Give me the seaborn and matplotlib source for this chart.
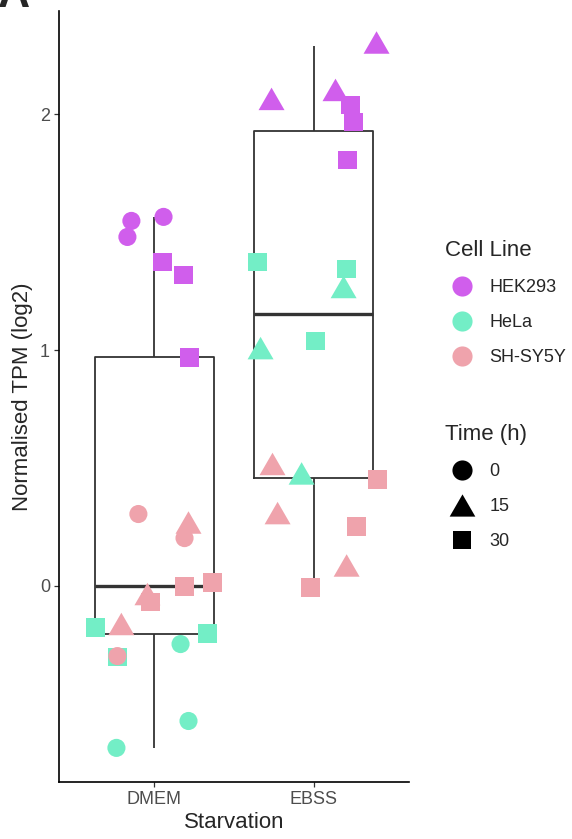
import numpy as np
import pandas as pd
import matplotlib
matplotlib.use("Agg")
import matplotlib.pyplot as plt
from matplotlib.lines import Line2D
import seaborn as sns

# ---------------------------------------------------------------------------
# Data
# ---------------------------------------------------------------------------
starvation_levels = ["DMEM", "EBSS"]
cell_lines = ["HEK293", "HeLa", "SH-SY5Y"]
time_levels = ["0", "15", "30"]

# one entry per point
starvation = ["DMEM"] * 21 + ["EBSS"] * 18
cell_line = (["HEK293"] * 6 + ["HeLa"] * 6 + ["SH-SY5Y"] * 9
             + ["HEK293"] * 6 + ["HeLa"] * 6 + ["SH-SY5Y"] * 6)
time_h = (["0", "0", "0", "30", "30", "30",
           "30", "30", "30", "0", "0", "0",
           "0", "0", "0", "15", "15", "15", "30", "30", "30",
           "15", "15", "15", "30", "30", "30",
           "30", "30", "30", "15", "15", "15",
           "15", "15", "15", "30", "30", "30"])
jitter = [-0.145, -0.170, 0.057, 0.050, 0.182, 0.220,
          -0.370, -0.233, 0.333, 0.164, 0.214, -0.239,
          -0.101, 0.189, -0.233, 0.214, -0.044, -0.208, 0.189, 0.365, -0.025,
          -0.264, 0.138, 0.396, 0.233, 0.252, 0.214,
          -0.352, 0.208, 0.013, 0.189, -0.333, -0.075,
          -0.258, -0.226, 0.208, 0.403, 0.270, -0.019]
tpm = [1.547, 1.479, 1.564, 1.373, 1.318, 0.970,
       -0.174, -0.301, -0.203, -0.246, -0.572, -0.686,
       0.305, 0.203, -0.297, 0.269, -0.034, -0.161, -0.004, 0.013, -0.068,
       2.064, 2.102, 2.303, 2.038, 1.966, 1.805,
       1.373, 1.343, 1.038, 1.267, 1.008, 0.477,
       0.517, 0.309, 0.087, 0.453, 0.254, -0.008]

# box summaries: lower whisker, Q1, median, Q3, upper whisker
box_dmem = [-0.686, -0.203, 0.000, 0.970, 1.564]
box_ebss = [0.030, 0.458, 1.153, 1.928, 2.288]

palette = {"HEK293": "#D05EEC", "HeLa": "#73EEC6", "SH-SY5Y": "#EFA3AC"}

tri = [(-1, -0.866), (1, -0.866), (0, 0.866)]
markers = {"0": "o", "15": tri, "30": "s"}
sizes = {"0": 170, "15": 350, "30": 185}

df = pd.DataFrame({"Starvation": starvation, "Cell Line": cell_line,
                   "Time (h)": time_h, "jitter": jitter, "TPM": tpm})
df["x"] = df["Starvation"].map({s: i for i, s in enumerate(starvation_levels)}) + df["jitter"]

box_df = pd.DataFrame({"Starvation": ["DMEM"] * 5 + ["EBSS"] * 5,
                       "TPM": box_dmem + box_ebss})

# ---------------------------------------------------------------------------
# Plot
# ---------------------------------------------------------------------------
sns.set_style("white")
plt.rcParams["font.family"] = ["Liberation Sans", "DejaVu Sans"]

fig = plt.figure(figsize=(5.72, 8.39), dpi=100)
ax = fig.add_axes([59 / 572, 1 - 782 / 839, 350 / 572, 771 / 839])

line_col = "#333333"
sns.boxplot(data=box_df, x="Starvation", y="TPM", order=starvation_levels,
            whis=np.inf, width=0.75, fill=False, color=line_col,
            linewidth=1.3, showcaps=False,
            medianprops={"linewidth": 2.4, "color": line_col},
            ax=ax, zorder=1)

sns.scatterplot(data=df, x="x", y="TPM", hue="Cell Line", style="Time (h)",
                size="Time (h)", palette=palette, markers=markers, sizes=sizes,
                hue_order=cell_lines, style_order=time_levels, size_order=time_levels,
                linewidth=0, alpha=1, legend=False, ax=ax, zorder=3)

ax.set_xlim(-0.6, 1.6)
ax.set_ylim((586 - 782) / 236, (586 - 11) / 236)
ax.set_xticks([0, 1])
ax.set_xticklabels(starvation_levels)
ax.set_yticks([0, 1, 2])
ax.set_yticklabels(["0", "1", "2"])
ax.tick_params(axis="both", direction="out", length=3.5, width=0.9,
               color=line_col, labelcolor="#4D4D4D", labelsize=13, pad=3,
               left=True, bottom=True)
ax.set_xlabel("Starvation", fontsize=16, labelpad=3)
ax.set_ylabel("Normalised TPM (log2)", fontsize=16, labelpad=5)

for side in ["top", "right"]:
    ax.spines[side].set_visible(False)
for side in ["left", "bottom"]:
    ax.spines[side].set_color("black")
    ax.spines[side].set_linewidth(1.2)

# legends
cell_handles = [Line2D([], [], linestyle="", marker="o", markersize=14.5,
                       markerfacecolor=palette[c], markeredgewidth=0, label=c)
                for c in cell_lines]
time_handles = [
    Line2D([], [], linestyle="", marker="o", markersize=14.5, color="black",
           markeredgewidth=0, label="0"),
    Line2D([], [], linestyle="", marker=tri, markersize=18.5, color="black",
           markeredgewidth=0, label="15"),
    Line2D([], [], linestyle="", marker="s", markersize=13.5, color="black",
           markeredgewidth=0, label="30"),
]
leg_kw = dict(loc="upper left", frameon=False, fontsize=13, title_fontsize=16,
              labelspacing=1.0, handletextpad=0.55, handlelength=1.9,
              alignment="left", borderpad=0, borderaxespad=0)
leg1 = fig.legend(handles=cell_handles, title="Cell Line",
                  bbox_to_anchor=(445 / 572, 1 - 240 / 839), **leg_kw)
leg2 = fig.legend(handles=time_handles, title="Time (h)",
                  bbox_to_anchor=(445 / 572, 1 - 424 / 839), **leg_kw)

# panel tag (cut off at the top edge in the original)
fig.text(-0.004, 1 - 7 / 839, "A", fontsize=32, fontweight="bold",
         va="baseline", ha="left")

fig.savefig("out.png", dpi=100)
